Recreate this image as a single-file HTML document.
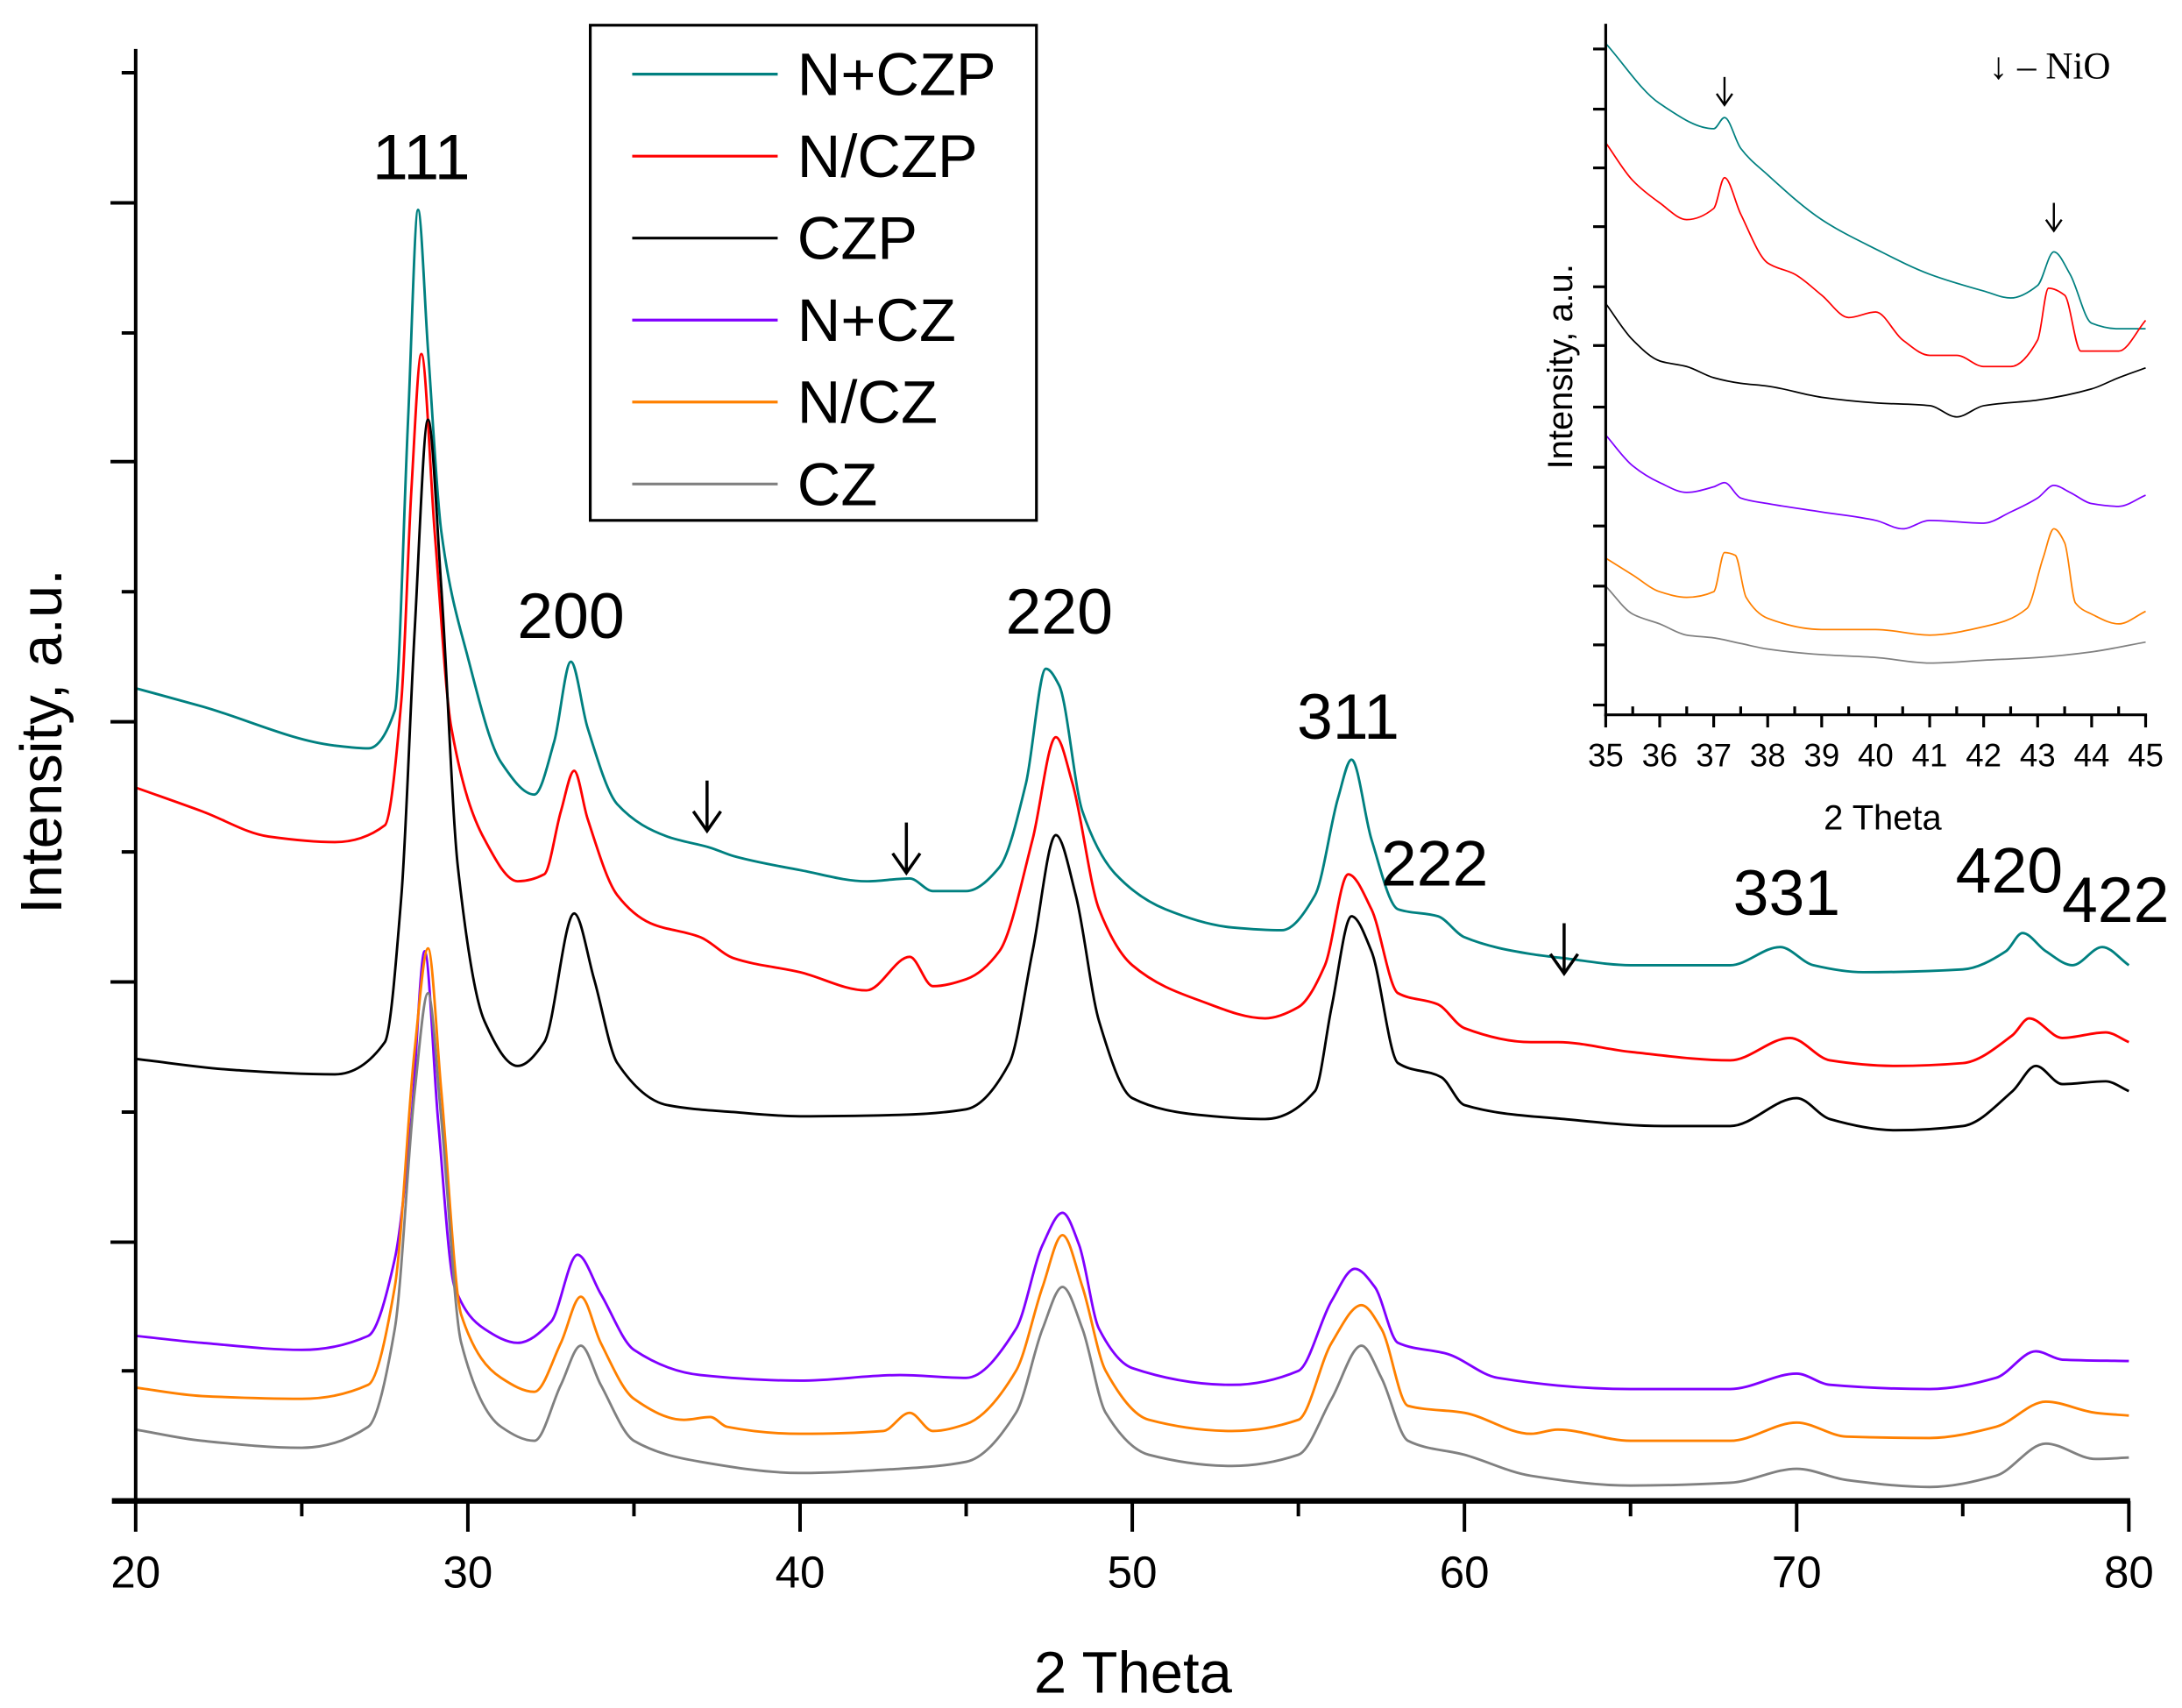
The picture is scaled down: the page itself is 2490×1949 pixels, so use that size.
<!DOCTYPE html>
<html><head><meta charset="utf-8"><style>
html,body{margin:0;padding:0;background:#fff}
svg{display:block}
text{font-family:"Liberation Sans",Arial,sans-serif;fill:#000}
</style></head><body>
<svg id="chart" width="2490" height="1949" viewBox="0 0 1560 1221" xmlns="http://www.w3.org/2000/svg">
<g id="main"></g>
<g id="inset"></g>
</svg>
<script>
// ---------- main chart data ----------
const seriesNames = ["N+CZP","N/CZP","CZP","N+CZ","N/CZ","CZ"];
const seriesColors = ["#008080","#ff0000","#000000","#8000ff","#ff8000","#808080"];
const xTicks = [20,30,40,50,60,70,80];
const xTealMain = [20,22,26,27,27.8,28.2,28.5,28.8,29.2,30,31,32,32.6,33.1,33.6,34.5,36,37.3,38,40,42,43.3,44,45,46,46.8,47.4,47.8,48.5,49.5,51,53,54.5,55.5,56.2,56.6,57.2,58,59.2,60,62,63,65,68,69.5,70.5,72,75,76.3,76.8,77.5,78.3,79.2,80];
const yTealMain = [581,568,540,538,565,773,923,823,693,603,528,505,543,600,553,498,475,467,461,451,443,445,436,436,453,513,595,583,493,448,423,410,408,433,503,530,473,423,418,403,391,388,383,383,396,383,378,380,393,406,393,383,396,383];
const xRedMain = [20,22,24,26,27.5,28,28.3,28.6,29,29.5,30.5,31.5,32.3,32.8,33.2,33.6,34.5,35.5,37,38,40,42,43.3,44,45,46,47,47.7,48.2,49,50,52,54,55,55.8,56.5,57.2,58,59.2,60,62,62.8,65,68,69.8,71,73,75,76.5,77,78,79.3,80];
const yRedMain = [510,493,475,471,483,573,723,820,693,553,473,443,448,493,522,488,433,413,403,388,378,365,389,368,373,393,473,546,513,423,383,358,345,353,383,448,423,363,355,338,328,328,321,315,331,315,311,313,333,345,331,335,328];
const xBlackMain = [20,23,26,27.5,28,28.4,28.8,29.2,29.7,30.5,31.5,32.3,33.2,33.8,34.5,36,38,40,43,45,46.3,47,47.7,48.3,49,50,52,54,55.5,56,56.6,57.2,58,59.3,60,63,66,68,70,71,73,75,76.5,77.2,78,79.3,80];
const yBlackMain = [316,308,305,328,433,623,773,653,453,343,311,328,420,373,313,283,278,275,276,280,313,393,476,433,343,288,276,273,293,353,418,393,313,303,283,273,268,268,288,273,265,268,293,311,298,300,293];
const xPurpleMain = [20,22,25,27,27.8,28.3,28.7,29.1,29.6,30.5,31.5,32.5,33.3,34,35,37,40,43,45,46.5,47.3,47.9,48.4,49,50,53,55,56,56.7,57.3,58,59.5,61,65,68,70,71,74,76,77.2,78,80];
const yPurpleMain = [118,113,108,118,173,273,393,273,153,123,113,128,176,148,108,90,86,90,88,123,183,206,183,123,95,83,93,143,166,153,113,105,88,80,80,91,83,80,88,107,101,100];
const xOrangeMain = [20,22,25,27,27.8,28.4,28.8,29.2,29.8,31,32,32.8,33.4,34,35,36.5,37.3,37.8,40,42.5,43.3,44,45,46.5,47.3,47.9,48.5,49.2,50.5,53,55,56,56.9,57.5,58.3,60,62,62.8,65,68,70,71.5,74,76,77.5,79,80];
const yOrangeMain = [81,75,73,83,153,323,395,293,133,88,78,113,146,113,73,58,60,53,48,50,63,50,55,93,153,190,153,93,58,50,58,113,140,123,68,63,48,51,43,43,56,46,45,53,71,63,61];
const xGrayMain = [20,22,25,27,27.8,28.4,28.8,29.2,29.8,31,32,32.8,33.4,34,35,37,40,43,45,46.5,47.3,47.9,48.5,49.2,50.5,53,55,56,56.9,57.5,58.3,60,62,65,68,70,71.5,74,76,77.5,79,80];
const yGrayMain = [51,43,38,53,123,293,363,273,113,53,43,83,111,83,43,28,20,23,28,63,123,153,123,63,33,25,33,73,111,88,43,33,18,11,13,23,15,10,18,41,30,31];
const peakLabels = ["111","200","220","311","222","331","420","422"];
const peakLabelX = [28.6,33.1,47.8,56.5,59.1,69.7,76.4,79.6];
const peakLabelI = [945,617,620,545,440,419,435,414];
const mainArrowX = [37.2,43.2,63.0];
const mainArrowI = [515,485,413];
// ---------- inset data ----------
const insetTicks = [35,36,37,38,39,40,41,42,43,44,45];
const xTealIn = [35,36,37,37.2,37.5,38,39,40,41,42,42.5,43,43.3,43.6,44,44.5,45];
const yTealIn = [480,437,419,427,405,386,354,333,315,303,298,307,331,315,280,276,276];
const xRedIn = [35,35.5,36,36.5,37,37.2,37.5,38,38.5,39,39.5,40,40.5,41,41.5,42,42.5,43,43.2,43.5,43.8,44,44.5,45];
const yRedIn = [409,382,366,354,362,384,358,323,315,300,284,288,268,257,257,249,249,268,305,300,260,260,260,282];
const xBlackIn = [35,35.5,36,36.5,37,37.5,38,39,40,41,41.5,42,43,44,44.5,45];
const yBlackIn = [294,268,253,249,241,237,235,227,223,221,213,221,225,233,241,248];
const xPurpleIn = [35,35.5,36,36.5,37,37.2,37.5,38,39,40,40.5,41,42,42.5,43,43.3,43.6,44,44.5,45];
const yPurpleIn = [200,178,166,159,163,166,155,151,145,139,133,139,137,145,155,164,159,151,149,157];
const xOrangeIn = [35,35.5,36,36.5,37,37.2,37.4,37.6,38,39,40,41,42,42.8,43.1,43.3,43.5,43.7,44,44.5,45];
const yOrangeIn = [112,100,88,84,88,116,114,84,69,61,61,57,63,76,112,133,123,80,72,65,74];
const xGrayIn = [35,35.5,36,36.5,37,37.5,38,39,40,41,42,43,44,45];
const yGrayIn = [92,72,65,57,55,51,47,43,41,37,39,41,45,52];
const insetArrowX = [37.2,43.3];
const insetArrowI = [456,366];

const NS = "http://www.w3.org/2000/svg";
function mk(parent, tag, attrs, txt){
  const e = document.createElementNS(NS, tag);
  for (const k in attrs) e.setAttribute(k, attrs[k]);
  if (txt !== undefined) e.textContent = txt;
  parent.appendChild(e);
  return e;
}
// monotone cubic (Fritsch-Carlson) path
function pathFrom(xs, ys, fx, fy){
  const X = xs.map(fx), Y = ys.map(fy), n = X.length;
  const d = [], m = new Array(n);
  for (let i=0;i<n-1;i++) d.push((Y[i+1]-Y[i])/(X[i+1]-X[i]));
  m[0]=d[0]; m[n-1]=d[n-2];
  for (let i=1;i<n-1;i++){
    if (d[i-1]*d[i] <= 0) m[i]=0;
    else { const w1=2*(X[i+1]-X[i])+(X[i]-X[i-1]), w2=(X[i+1]-X[i])+2*(X[i]-X[i-1]); m[i]=(w1+w2)/(w1/d[i-1]+w2/d[i]); }
  }
  let s = "M"+X[0].toFixed(2)+","+Y[0].toFixed(2);
  for (let i=0;i<n-1;i++){
    const h = X[i+1]-X[i];
    s += " C"+(X[i]+h/3).toFixed(2)+","+(Y[i]+m[i]*h/3).toFixed(2)+" "+(X[i+1]-h/3).toFixed(2)+","+(Y[i+1]-m[i+1]*h/3).toFixed(2)+" "+X[i+1].toFixed(2)+","+Y[i+1].toFixed(2);
  }
  return s;
}

// ---------- main ----------
const main = document.getElementById("main");
const mx = x => 97 + (x-20)*(1522-97)/60;
const my = v => 1073 - v*(1073-35)/1038;
const mainX = [xTealMain,xRedMain,xBlackMain,xPurpleMain,xOrangeMain,xGrayMain];
const mainY = [yTealMain,yRedMain,yBlackMain,yPurpleMain,yOrangeMain,yGrayMain];
const mainKeys = ["n-czp","n-slash-czp","czp","n-cz","n-slash-cz","cz"];
for (let s=0;s<6;s++){
  const p = mk(main,"path",{d:pathFrom(mainX[s],mainY[s],mx,my),fill:"none",stroke:seriesColors[s],"stroke-width":1.8,"stroke-linejoin":"round"});
  
  
}
const ya = mk(main,"line",{x1:97,y1:35,x2:97,y2:1075,stroke:"#000","stroke-width":2.5});


const yTickYs = [52,145,238,330,423,516,609,702,795,888,980];
yTickYs.forEach((t,i)=>{
  const major = (i%2===1);
  const l = mk(main,"line",{x1:major?79:87,y1:t,x2:97,y2:t,stroke:"#000","stroke-width":2.5});
  
  
});
const xa = mk(main,"line",{x1:80,y1:1073,x2:1523,y2:1073,stroke:"#000","stroke-width":4});


for (let v=20; v<=80; v+=5){
  const major = v%10===0;
  const l = mk(main,"line",{x1:mx(v),y1:1073,x2:mx(v),y2:major?1095:1084,stroke:"#000","stroke-width":2.5});
  
  
}
xTicks.forEach(v=>{
  const t = mk(main,"text",{x:mx(v),y:1135,"text-anchor":"middle","font-size":32},String(v));
  
  
});
const xt = mk(main,"text",{x:810,y:1210,"text-anchor":"middle","font-size":42},"2 Theta");


const yt = mk(main,"text",{x:0,y:0,"text-anchor":"middle","font-size":42,transform:"translate(44,530) rotate(-90)"},"Intensity, a.u.");


peakLabels.forEach((lab,i)=>{
  const t = mk(main,"text",{x:mx(peakLabelX[i]),y:my(peakLabelI[i]),"text-anchor":"middle","font-size":46},lab);
  
  
});
function arrow(parent, x, yTop, len, head, w, name){
  const g = mk(parent,"g",{});
  
  
  mk(g,"line",{x1:x,y1:yTop,x2:x,y2:yTop+len,stroke:"#000","stroke-width":w});
  mk(g,"polyline",{points:(x-head*0.7)+","+(yTop+len-head)+" "+x+","+(yTop+len)+" "+(x+head*0.7)+","+(yTop+len-head),fill:"none",stroke:"#000","stroke-width":w});
}
mainArrowX.forEach((v,i)=>arrow(main, mx(v), my(mainArrowI[i]), 36, 14, 2.2, 'nio-arrow'));
const lg = mk(main,"g",{});


mk(lg,"rect",{x:422,y:18,width:319,height:354,fill:"#fff",stroke:"#000","stroke-width":2});
seriesNames.forEach((n,i)=>{
  const yy = 53 + i*58.6;
  const g = mk(lg,"g",{});
  
  
  mk(g,"line",{x1:452,y1:yy,x2:556,y2:yy,stroke:seriesColors[i],"stroke-width":2});
  mk(g,"text",{x:570,y:yy+15,"font-size":43},n);
});

// ---------- inset ----------
const inset = document.getElementById("inset");
const ix = x => 1148 + (x-35)*(1534-1148)/10;
const iy = v => 511 - v;
const inX = [xTealIn,xRedIn,xBlackIn,xPurpleIn,xOrangeIn,xGrayIn];
const inY = [yTealIn,yRedIn,yBlackIn,yPurpleIn,yOrangeIn,yGrayIn];
for (let s=0;s<6;s++){
  const p = mk(inset,"path",{d:pathFrom(inX[s],inY[s],ix,iy),fill:"none",stroke:seriesColors[s],"stroke-width":1.1});
  
  
}
const iya = mk(inset,"line",{x1:1148,y1:17,x2:1148,y2:512,stroke:"#000","stroke-width":2});


const iTickYs=[35,78,120,162,205,247,291,334,376,419,461,504];
iTickYs.forEach(t=>{
  const l = mk(inset,"line",{x1:1139,y1:t,x2:1148,y2:t,stroke:"#000","stroke-width":2});
  
  
});
const ixa = mk(inset,"line",{x1:1147,y1:511,x2:1535,y2:511,stroke:"#000","stroke-width":2});


for (let v=35; v<=45.01; v+=0.5){
  const major = Math.abs(v-Math.round(v))<0.01;
  const l = mk(inset,"line",{x1:ix(v),y1:major?511:505,x2:ix(v),y2:major?520:511,stroke:"#000","stroke-width":2});
  
  
}
insetTicks.forEach(v=>{
  const t = mk(inset,"text",{x:ix(v),y:548,"text-anchor":"middle","font-size":23},String(v));
  
  
});
const ixt = mk(inset,"text",{x:1346,y:593,"text-anchor":"middle","font-size":25},"2 Theta");


const iyt = mk(inset,"text",{x:0,y:0,"text-anchor":"middle","font-size":25,transform:"translate(1124,262) rotate(-90)"},"Intensity, a.u.");


insetArrowX.forEach((v,i)=>arrow(inset, ix(v), iy(insetArrowI[i]), 20, 8, 1.5, 'inset-nio-arrow'));
const note = mk(inset,"text",{x:1422,y:56,"font-size":27,style:"font-family:'Liberation Serif',serif"},"\u2193 \u2013 NiO");


</script>
</body></html>
